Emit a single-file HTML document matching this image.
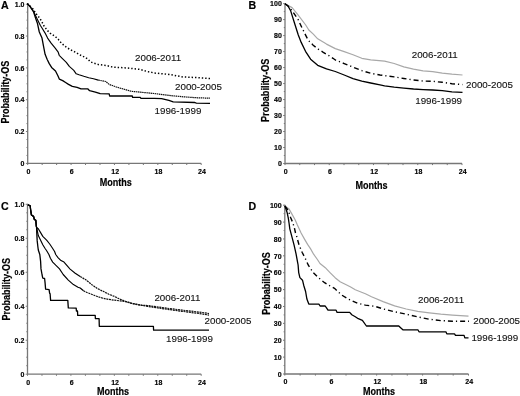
<!DOCTYPE html>
<html><head><meta charset="utf-8"><style>
html,body{margin:0;padding:0;background:#fff;width:520px;height:396px;overflow:hidden}
svg{display:block;will-change:transform}
text{font-family:"Liberation Sans", sans-serif}
.tk{font-size:7px;font-weight:bold;fill:#000;stroke:#000;stroke-width:0.15px}
.cl{font-size:9.8px;fill:#111;stroke:#111;stroke-width:0.12px}
.pl{font-size:10.6px;font-weight:bold;fill:#000;stroke:#000;stroke-width:0.2px}
.mo{font-size:11.6px;font-weight:bold;fill:#000;stroke:#000;stroke-width:0.2px}
.yl{font-size:11.6px;font-weight:bold;fill:#000;stroke:#000;stroke-width:0.2px}
</style></head><body>
<svg width="520" height="396" viewBox="0 0 520 396">
<rect width="520" height="396" fill="#fff"/>
<path d="M27.7 3.7V163.4H201.2" fill="none" stroke="#777" stroke-width="1.3"/>
<path d="M27.70 163.4v1.6M42.16 163.4v1.6M56.62 163.4v1.6M71.08 163.4v1.6M85.53 163.4v1.6M99.99 163.4v1.6M114.45 163.4v1.6M128.91 163.4v1.6M143.37 163.4v1.6M157.82 163.4v1.6M172.28 163.4v1.6M186.74 163.4v1.6M201.20 163.4v1.6" stroke="#777" stroke-width="1"/>
<path d="M27.7 163.40h-1.8M27.7 155.44h-1.2M27.7 147.48h-1.2M27.7 139.52h-1.2M27.7 131.56h-1.8M27.7 123.60h-1.2M27.7 115.64h-1.2M27.7 107.68h-1.2M27.7 99.72h-1.8M27.7 91.76h-1.2M27.7 83.80h-1.2M27.7 75.84h-1.2M27.7 67.88h-1.8M27.7 59.92h-1.2M27.7 51.96h-1.2M27.7 44.00h-1.2M27.7 36.04h-1.8M27.7 28.08h-1.2M27.7 20.12h-1.2M27.7 12.16h-1.2M27.7 4.20h-1.8" stroke="#777" stroke-width="1"/>
<text x="24.5" y="166.10" class="tk" text-anchor="end">0</text>
<text x="24.5" y="134.26" class="tk" text-anchor="end">0.2</text>
<text x="24.5" y="102.42" class="tk" text-anchor="end">0.4</text>
<text x="24.5" y="70.58" class="tk" text-anchor="end">0.6</text>
<text x="24.5" y="38.74" class="tk" text-anchor="end">0.8</text>
<text x="24.5" y="6.90" class="tk" text-anchor="end">1.0</text>
<text x="28.40" y="173.80" class="tk" text-anchor="middle">0</text>
<text x="71.78" y="173.80" class="tk" text-anchor="middle">6</text>
<text x="115.15" y="173.80" class="tk" text-anchor="middle">12</text>
<text x="158.52" y="173.80" class="tk" text-anchor="middle">18</text>
<text x="201.90" y="173.80" class="tk" text-anchor="middle">24</text>
<path d="M285.0 3.1V163.5H462.0" fill="none" stroke="#777" stroke-width="1.3"/>
<path d="M285.00 163.5v1.6M299.75 163.5v1.6M314.50 163.5v1.6M329.25 163.5v1.6M344.00 163.5v1.6M358.75 163.5v1.6M373.50 163.5v1.6M388.25 163.5v1.6M403.00 163.5v1.6M417.75 163.5v1.6M432.50 163.5v1.6M447.25 163.5v1.6M462.00 163.5v1.6" stroke="#777" stroke-width="1"/>
<path d="M285.0 163.50h-1.8M285.0 155.50h-1.2M285.0 147.51h-1.8M285.0 139.51h-1.2M285.0 131.52h-1.8M285.0 123.53h-1.2M285.0 115.53h-1.8M285.0 107.53h-1.2M285.0 99.54h-1.8M285.0 91.54h-1.2M285.0 83.55h-1.8M285.0 75.55h-1.2M285.0 67.56h-1.8M285.0 59.56h-1.2M285.0 51.57h-1.8M285.0 43.58h-1.2M285.0 35.58h-1.8M285.0 27.58h-1.2M285.0 19.59h-1.8M285.0 11.59h-1.2M285.0 3.60h-1.8" stroke="#777" stroke-width="1"/>
<text x="281.8" y="166.20" class="tk" text-anchor="end">0</text>
<text x="281.8" y="150.21" class="tk" text-anchor="end">10</text>
<text x="281.8" y="134.22" class="tk" text-anchor="end">20</text>
<text x="281.8" y="118.23" class="tk" text-anchor="end">30</text>
<text x="281.8" y="102.24" class="tk" text-anchor="end">40</text>
<text x="281.8" y="86.25" class="tk" text-anchor="end">50</text>
<text x="281.8" y="70.26" class="tk" text-anchor="end">60</text>
<text x="281.8" y="54.27" class="tk" text-anchor="end">70</text>
<text x="281.8" y="38.28" class="tk" text-anchor="end">80</text>
<text x="281.8" y="22.29" class="tk" text-anchor="end">90</text>
<text x="281.8" y="6.30" class="tk" text-anchor="end">100</text>
<text x="285.70" y="173.90" class="tk" text-anchor="middle">0</text>
<text x="329.95" y="173.90" class="tk" text-anchor="middle">6</text>
<text x="374.20" y="173.90" class="tk" text-anchor="middle">12</text>
<text x="418.45" y="173.90" class="tk" text-anchor="middle">18</text>
<text x="462.70" y="173.90" class="tk" text-anchor="middle">24</text>
<path d="M27.5 203.8V374.2H201.2" fill="none" stroke="#777" stroke-width="1.3"/>
<path d="M27.50 374.2v1.6M41.98 374.2v1.6M56.45 374.2v1.6M70.92 374.2v1.6M85.40 374.2v1.6M99.88 374.2v1.6M114.35 374.2v1.6M128.82 374.2v1.6M143.30 374.2v1.6M157.78 374.2v1.6M172.25 374.2v1.6M186.72 374.2v1.6M201.20 374.2v1.6" stroke="#777" stroke-width="1"/>
<path d="M27.5 374.20h-1.8M27.5 365.70h-1.2M27.5 357.21h-1.2M27.5 348.71h-1.2M27.5 340.22h-1.8M27.5 331.72h-1.2M27.5 323.23h-1.2M27.5 314.73h-1.2M27.5 306.24h-1.8M27.5 297.75h-1.2M27.5 289.25h-1.2M27.5 280.75h-1.2M27.5 272.26h-1.8M27.5 263.76h-1.2M27.5 255.27h-1.2M27.5 246.77h-1.2M27.5 238.28h-1.8M27.5 229.78h-1.2M27.5 221.29h-1.2M27.5 212.80h-1.2M27.5 204.30h-1.8" stroke="#777" stroke-width="1"/>
<text x="24.3" y="376.90" class="tk" text-anchor="end">0</text>
<text x="24.3" y="342.92" class="tk" text-anchor="end">0.2</text>
<text x="24.3" y="308.94" class="tk" text-anchor="end">0.4</text>
<text x="24.3" y="274.96" class="tk" text-anchor="end">0.6</text>
<text x="24.3" y="240.98" class="tk" text-anchor="end">0.8</text>
<text x="24.3" y="207.00" class="tk" text-anchor="end">1.0</text>
<text x="28.20" y="384.60" class="tk" text-anchor="middle">0</text>
<text x="71.62" y="384.60" class="tk" text-anchor="middle">6</text>
<text x="115.05" y="384.60" class="tk" text-anchor="middle">12</text>
<text x="158.47" y="384.60" class="tk" text-anchor="middle">18</text>
<text x="201.90" y="384.60" class="tk" text-anchor="middle">24</text>
<path d="M284.8 204.7V374.0H468.5" fill="none" stroke="#777" stroke-width="1.3"/>
<path d="M284.80 374.0v1.6M300.11 374.0v1.6M315.42 374.0v1.6M330.73 374.0v1.6M346.03 374.0v1.6M361.34 374.0v1.6M376.65 374.0v1.6M391.96 374.0v1.6M407.27 374.0v1.6M422.58 374.0v1.6M437.88 374.0v1.6M453.19 374.0v1.6M468.50 374.0v1.6" stroke="#777" stroke-width="1"/>
<path d="M284.8 374.00h-1.8M284.8 365.56h-1.2M284.8 357.12h-1.8M284.8 348.68h-1.2M284.8 340.24h-1.8M284.8 331.80h-1.2M284.8 323.36h-1.8M284.8 314.92h-1.2M284.8 306.48h-1.8M284.8 298.04h-1.2M284.8 289.60h-1.8M284.8 281.16h-1.2M284.8 272.72h-1.8M284.8 264.28h-1.2M284.8 255.84h-1.8M284.8 247.40h-1.2M284.8 238.96h-1.8M284.8 230.52h-1.2M284.8 222.08h-1.8M284.8 213.64h-1.2M284.8 205.20h-1.8" stroke="#777" stroke-width="1"/>
<text x="281.6" y="376.70" class="tk" text-anchor="end">0</text>
<text x="281.6" y="359.82" class="tk" text-anchor="end">10</text>
<text x="281.6" y="342.94" class="tk" text-anchor="end">20</text>
<text x="281.6" y="326.06" class="tk" text-anchor="end">30</text>
<text x="281.6" y="309.18" class="tk" text-anchor="end">40</text>
<text x="281.6" y="292.30" class="tk" text-anchor="end">50</text>
<text x="281.6" y="275.42" class="tk" text-anchor="end">60</text>
<text x="281.6" y="258.54" class="tk" text-anchor="end">70</text>
<text x="281.6" y="241.66" class="tk" text-anchor="end">80</text>
<text x="281.6" y="224.78" class="tk" text-anchor="end">90</text>
<text x="281.6" y="207.90" class="tk" text-anchor="end">100</text>
<text x="285.50" y="384.40" class="tk" text-anchor="middle">0</text>
<text x="331.43" y="384.40" class="tk" text-anchor="middle">6</text>
<text x="377.35" y="384.40" class="tk" text-anchor="middle">12</text>
<text x="423.28" y="384.40" class="tk" text-anchor="middle">18</text>
<text x="469.20" y="384.40" class="tk" text-anchor="middle">24</text>
<path d="M27.3 3.6 30.0 6.5 33.6 12.0 35.8 18.7 37.4 23.2 39.3 32.0 42.0 38.1 43.5 46.2 45.1 54.3 47.1 59.3 49.1 63.4 51.6 67.4 55.5 71.0 57.9 75.8 59.3 79.1 62.7 80.6 65.6 82.5 68.5 84.4 72.3 86.3 77.1 87.3 81.0 88.8 87.7 88.8 89.6 90.7 95.4 92.1 100.2 93.7 109.2 93.9 109.6 96.0 132.3 96.0 132.6 97.4 140.4 97.4 140.8 98.3 154.4 98.3 161.6 98.7 168.9 100.4 173.2 101.8 194.8 102.5 196.3 103.2 210.0 103.3" fill="none" stroke="#000" stroke-width="1.3" stroke-linejoin="round"/>
<path d="M27.3 3.6 30.0 6.3 33.6 11.5 37.4 19.4 40.4 25.5 42.0 28.0 45.1 33.1 47.6 38.1 51.1 43.2 55.2 48.2 58.2 52.2 59.2 55.3 62.2 58.3 66.3 62.3 69.3 66.4 73.8 70.4 76.2 73.8 79.0 74.8 83.8 76.3 88.7 77.7 93.5 78.7 98.3 80.1" fill="none" stroke="#000" stroke-width="1.15" stroke-linejoin="round"/>
<path d="M98.3 80.1 105.8 81.5 109.2 84.4 117.3 87.3 125.4 89.6 131.2 91.3 140.4 92.2 154.4 93.5 168.9 95.4 183.3 96.8 197.7 97.8 210.0 98.2" fill="none" stroke="#111" stroke-width="1.2" stroke-dasharray="1.5 0.6"/>
<path d="M27.3 3.6 30.0 6.0 33.0 9.0 35.8 13.4 39.6 17.9 42.0 22.0 44.0 26.0 47.4 30.5 50.1 33.1 55.2 36.5 58.2 39.3 61.2 43.0 65.3 46.5 70.3 49.7 75.4 52.2 79.4 54.6 85.8 57.7 88.5 59.6 90.0 61.6 92.7 62.7 98.5 64.6 105.8 65.4 113.0 67.1 127.1 68.0 140.0 69.4 147.2 71.5 154.4 73.0 168.9 74.4 177.5 75.9 183.3 77.0 197.7 77.6 210.0 78.5" fill="none" stroke="#000" stroke-width="1.5" stroke-dasharray="1.4 2"/>
<path d="M285.0 3.8 292.1 7.6 298.2 15.2 305.7 25.0 308.8 30.0 313.3 34.1 317.7 38.8 326.5 44.1 335.3 48.6 344.2 51.6 353.0 54.7 361.8 58.3 370.7 59.8 384.6 61.2 394.2 63.5 403.8 66.9 413.5 69.2 423.1 70.8 432.7 71.7 442.3 73.1 451.9 74.2 462.5 75.0" fill="none" stroke="#a8a8a8" stroke-width="1.2" stroke-linejoin="round"/>
<path d="M285.0 3.8 288.0 6.0 292.1 10.6 298.2 19.7 302.1 28.0 305.1 34.1 308.2 40.2 313.2 45.2 318.3 49.2 323.3 52.3 328.4 55.3 333.0 58.3 335.3 60.0 344.2 63.6 353.0 67.1 361.8 70.6 370.7 73.3 380.0 75.0 394.2 76.9 403.8 78.5 413.5 80.0 423.1 81.0 432.7 81.3 442.3 82.3 451.9 83.7 462.5 84.6" fill="none" stroke="#000" stroke-width="1.4" stroke-dasharray="5 3 1.2 3"/>
<path d="M285.0 3.8 288.0 6.0 290.6 10.6 294.4 22.7 298.2 34.8 301.2 42.4 305.5 51.3 310.6 59.2 317.7 65.3 326.5 68.9 335.3 71.5 344.2 75.0 353.0 78.6 361.8 81.2 370.7 83.0 380.0 84.8 384.6 85.8 394.2 87.1 403.8 88.1 413.5 89.0 423.1 89.6 432.7 90.0 442.3 90.6 451.9 91.9 462.5 92.3" fill="none" stroke="#000" stroke-width="1.3" stroke-linejoin="round"/>
<path d="M27.9 204.8 30.2 205.8 30.6 209.6 31.4 214.9 33.6 216.4 34.3 219.4 35.8 220.2 36.3 226.2 36.6 227.5 36.8 233.4 37.2 240.9 37.9 247.0 38.3 250.0 39.8 254.5 40.6 261.4 41.0 268.9 42.1 275.0 42.8 278.2 44.6 278.5 45.1 283.1 45.6 289.1 49.1 289.6 49.6 293.2 50.1 293.7 50.6 300.4 67.8 300.4 68.3 307.9 76.2 308.1 76.4 311.0 77.5 311.0 77.7 315.4 95.2 315.4 95.4 318.7 99.1 318.7 99.3 326.3 153.4 326.3 153.6 330.2 209.0 330.2" fill="none" stroke="#000" stroke-width="1.3" stroke-linejoin="round"/>
<path d="M27.9 204.8 30.2 205.8 30.6 209.6 31.4 214.9 33.6 216.4 34.3 219.4 35.8 220.2 36.3 226.2 36.6 227.5 38.3 235.6 40.6 240.2 42.8 244.7 45.1 248.5 46.5 250.5 48.9 254.5 50.4 258.3 52.7 262.1 55.7 265.2 59.5 268.9 63.2 274.5 68.3 280.1 73.4 284.6 78.0 287.2 80.2 288.0 83.5 290.8" fill="none" stroke="#000" stroke-width="1.15" stroke-linejoin="round"/>
<path d="M83.5 290.8 86.9 292.5 91.5 294.2 97.3 296.5 103.1 298.3 108.8 299.4 114.6 300.2 120.4 300.9 126.2 301.7 131.9 303.3 140.0 304.9 147.3 306.4 164.6 308.9 181.9 311.3 199.2 313.5 209.0 315.1" fill="none" stroke="#111" stroke-width="1.2" stroke-dasharray="2 0.7"/>
<path d="M27.9 204.8 30.2 205.8 30.6 209.6 31.4 214.9 33.6 216.4 34.3 219.4 35.8 220.2 36.3 226.2 36.6 227.5 38.3 228.8 40.6 232.6 42.8 236.4 46.6 240.2 49.7 244.0 52.7 248.5 54.6 251.5 55.7 254.5 58.0 257.6 61.0 260.6 64.0 262.1 70.1 269.1 75.2 273.2 80.2 276.5" fill="none" stroke="#000" stroke-width="1.15" stroke-linejoin="round"/>
<path d="M80.2 276.5 85.8 279.8 91.5 284.4 97.3 288.5 103.1 291.3 108.8 294.2 114.6 296.5 120.4 299.4 126.2 301.7 131.9 303.5 140.0 305.2 147.3 305.5 164.6 307.9 181.9 310.1 199.2 312.1 209.0 313.5" fill="none" stroke="#111" stroke-width="1.2" stroke-dasharray="2 0.7"/>
<path d="M284.9 206.0 289.1 209.1 292.1 214.4 295.1 219.7 297.4 225.0 301.1 233.0 304.5 239.1 307.6 244.4 310.6 248.9 313.6 254.2 317.4 259.5 320.0 263.5 325.3 267.7 330.0 272.6 335.1 277.7 340.1 281.7 345.2 284.2 350.2 286.8 355.3 289.8 360.3 291.8 365.4 293.8 371.5 296.8 383.1 301.6 394.6 305.9 406.2 309.0 417.7 311.4 429.3 312.8 440.8 314.2 452.4 315.1 468.5 316.2" fill="none" stroke="#a8a8a8" stroke-width="1.2" stroke-linejoin="round"/>
<path d="M284.9 206.0 288.3 210.6 290.6 217.4 292.8 222.7 294.4 228.0 295.5 233.0 296.6 236.1 299.1 245.2 302.1 252.2 306.2 260.3 308.2 265.0 313.2 272.6 318.3 277.6 324.6 282.7 330.9 286.5 334.5 288.3 341.6 295.0 350.3 300.1 357.3 303.1 365.4 305.1 375.0 306.3 383.1 308.9 394.6 311.8 406.2 314.2 417.7 316.9 429.3 319.2 440.8 320.6 452.4 321.2 469.0 321.3" fill="none" stroke="#000" stroke-width="1.4" stroke-dasharray="5 3 1.2 3"/>
<path d="M284.9 206.0 286.0 209.1 287.2 212.8 288.3 218.2 289.1 223.5 289.8 228.8 292.0 237.1 294.1 245.2 296.1 254.2 297.6 262.3 298.1 265.0 298.7 272.6 299.9 277.6 302.5 280.2 303.7 285.2 305.6 291.5 306.9 299.1 308.8 304.1 318.9 304.1 320.1 306.0 325.2 306.0 326.5 307.9 328.0 310.2 336.1 310.2 337.1 312.4 349.7 312.4 351.8 314.7 355.3 316.7 358.3 318.7 362.4 320.3 366.4 326.0 398.8 326.0 400.6 327.7 402.9 329.8 417.9 329.8 419.0 331.8 445.9 331.8 446.8 333.8 454.5 333.8 455.5 335.4 464.1 335.4 464.8 337.9 468.5 337.9" fill="none" stroke="#000" stroke-width="1.3" stroke-linejoin="round"/>
<text x="135.0" y="61.2" class="cl">2006-2011</text>
<text x="175.0" y="90.0" class="cl">2000-2005</text>
<text x="154.5" y="114.3" class="cl">1996-1999</text>
<text x="411.7" y="58.3" class="cl">2006-2011</text>
<text x="466.0" y="88.0" class="cl">2000-2005</text>
<text x="415.2" y="104" class="cl">1996-1999</text>
<text x="154.4" y="301.1" class="cl">2006-2011</text>
<text x="204.5" y="324.4" class="cl">2000-2005</text>
<text x="166.0" y="342.3" class="cl">1996-1999</text>
<text x="418.0" y="302.9" class="cl">2006-2011</text>
<text x="473.2" y="324.2" class="cl">2000-2005</text>
<text x="471.4" y="340.9" class="cl">1996-1999</text>
<text x="1" y="8.8" class="pl">A</text>
<text x="248.4" y="8.6" class="pl">B</text>
<text x="1" y="210.4" class="pl">C</text>
<text x="248.5" y="210.1" class="pl">D</text>
<text x="115.7" y="186" class="mo" text-anchor="middle" transform="translate(115.7 186) scale(0.78 1) translate(-115.7 -186)">Months</text>
<text x="371.5" y="188.6" class="mo" text-anchor="middle" transform="translate(371.5 188.6) scale(0.78 1) translate(-371.5 -188.6)">Months</text>
<text x="113" y="394.6" class="mo" text-anchor="middle" transform="translate(113 394.6) scale(0.78 1) translate(-113 -394.6)">Months</text>
<text x="379" y="394.8" class="mo" text-anchor="middle" transform="translate(379 394.8) scale(0.78 1) translate(-379 -394.8)">Months</text>
<text class="yl" transform="translate(9.0 123.6) rotate(-90)" textLength="62.9" lengthAdjust="spacingAndGlyphs">Probability-OS</text>
<text class="yl" transform="translate(268.8 122) rotate(-90)" textLength="63.4" lengthAdjust="spacingAndGlyphs">Probability-OS</text>
<text class="yl" transform="translate(10.1 320.5) rotate(-90)" textLength="62.4" lengthAdjust="spacingAndGlyphs">Probability-OS</text>
<text class="yl" transform="translate(270.2 314.8) rotate(-90)" textLength="62.7" lengthAdjust="spacingAndGlyphs">Probability-OS</text>
</svg>
</body></html>
